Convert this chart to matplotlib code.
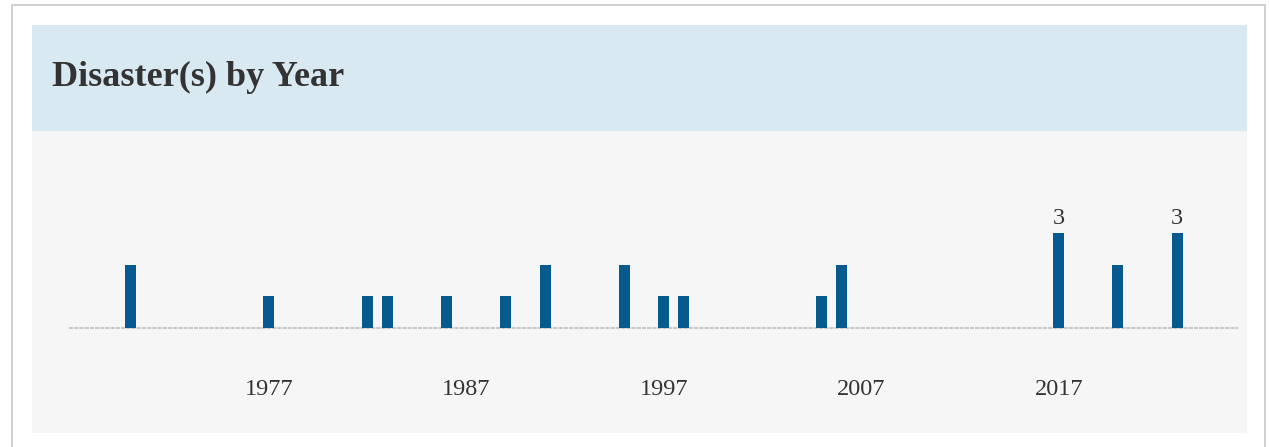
import matplotlib.pyplot as plt
from matplotlib.patches import Rectangle

years = [1970, 1977, 1982, 1983, 1986, 1989, 1991, 1995, 1997, 1998, 2005, 2006, 2017, 2020, 2023]
counts = [2, 1, 1, 1, 1, 1, 2, 2, 1, 1, 1, 2, 3, 2, 3]
tick_years = [1977, 1987, 1997, 2007, 2017]
title = "Disaster(s) by Year"

W, H = 1269, 447
fig = plt.figure(figsize=(W / 100, H / 100), dpi=100)
fig.patch.set_facecolor('white')


def fbox(x0, y0, x1, y1, **kw):
    # pixel box (top-left origin) -> figure fraction rectangle, kept behind the axes
    fig.add_artist(Rectangle((x0 / W, 1 - y1 / H), (x1 - x0) / W, (y1 - y0) / H,
                             transform=fig.transFigure, zorder=-5, **kw))


fbox(12, 5, 1265, 452, facecolor='white', edgecolor='#c8c8c8', linewidth=1.2)
fbox(32, 25, 1247, 131, facecolor='#d9e9f2', edgecolor='none')
fbox(32, 131, 1247, 433, facecolor='#f6f6f6', edgecolor='none')

fig.text(52 / W, 1 - 77 / H, title, fontsize=26, fontweight='bold',
         family='Liberation Serif', color='#333333', va='center', ha='left')

ax = fig.add_axes([70 / W, 1 - 328 / H, (1237 - 70) / W, (328 - 233) / H])
ax.set_facecolor('none')
ax.bar(years, counts, width=0.56, color='#065a8e', zorder=3)
ax.set_xlim(1966.93, 2026.03)
ax.set_ylim(0, 3)

top = max(counts)
for y, c in zip(years, counts):
    if c == top:
        ax.text(y, c + 0.12, str(c), ha='center', va='bottom', fontsize=17.5,
                family='Liberation Serif', color='#333333')

for s in ['top', 'right', 'left']:
    ax.spines[s].set_visible(False)
ax.spines['bottom'].set_color('#c8c8c8')
ax.spines['bottom'].set_linestyle((0, (1, 1.5)))
ax.spines['bottom'].set_linewidth(1.5)
ax.set_yticks([])
ax.set_xticks(tick_years)
ax.set_xticklabels([str(t) for t in tick_years], family='Liberation Serif',
                   fontsize=17.5, color='#333333')
ax.tick_params(axis='x', length=0, pad=37)

fig.savefig('out.png', dpi=100)
